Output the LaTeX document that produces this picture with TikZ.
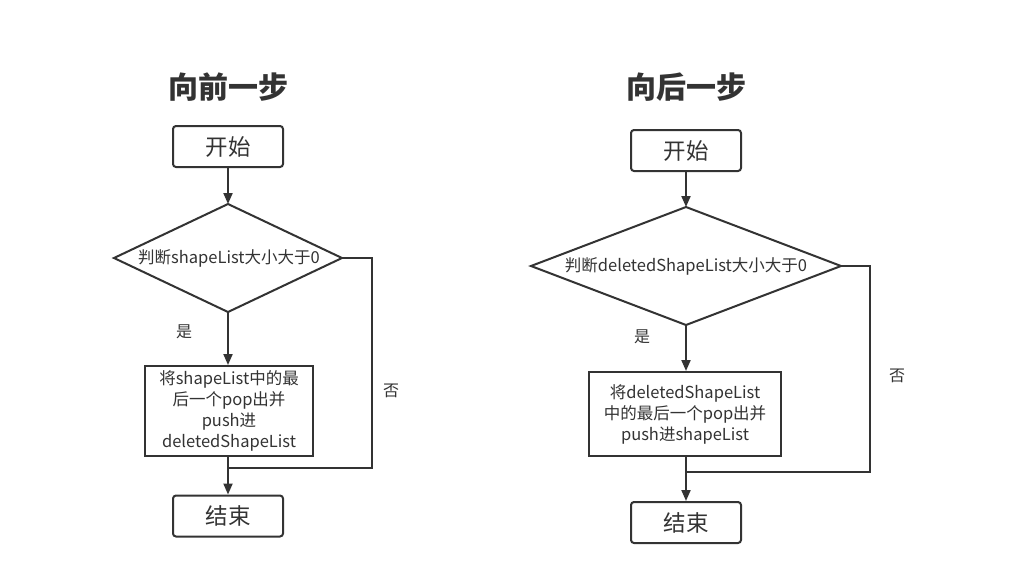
\documentclass[tikz,border=0pt]{standalone}
\usepackage{fontspec}
\setmainfont{Noto Sans CJK SC}
\usetikzlibrary{arrows.meta,calc}
\definecolor{ink}{HTML}{333333}
\tikzset{
  x=1pt,y=-1pt,
  every node/.style={text=ink},
  line/.style={draw=ink,line width=2pt},
  thin line/.style={draw=ink,line width=1.5pt},
  arr/.style={line,-{Triangle[length=11pt,width=9pt]}},
  term/.style={line,rounded corners=3pt,minimum width=110pt,minimum height=41pt,font=\fontsize{22.5}{26}\selectfont,inner sep=0pt},
  proc/.style={line,font=\fontsize{16.5}{21}\selectfont,align=center,inner sep=0pt},
  title/.style={font=\fontsize{30}{34}\selectfont\bfseries},
  lbl/.style={font=\fontsize{16}{20}\selectfont},
  dtext/.style={font=\fontsize{16.5}{20}\selectfont,inner sep=0pt},
}
\begin{document}
\begin{tikzpicture}
\fill[white] (0,0) rectangle (1009,576);
\useasboundingbox (0,0) rectangle (1009,576);

% ---------------- left ----------------
\node[title] (t1) at (228,87) {向前一步};
\node[term] (s1) at (228,146.5) {开始};
\coordinate (d1n) at (228,204);
\coordinate (d1e) at (342,258);
\coordinate (d1s) at (228,312);
\coordinate (d1w) at (114,258);
\draw[line,line join=miter] (d1n) -- (d1e) -- (d1s) -- (d1w) -- cycle;
\node[dtext] (d1) at (229,258) {判断shapeList大小大于0};
\node[proc,minimum width=168pt,minimum height=90pt] (p1) at (229,411) {将shapeList中的最\\后一个pop出并\\push进\\deletedShapeList};
\node[term] (e1) at (228,516) {结束};
\draw[arr] (s1.south) -- (d1n);
\draw[arr] (d1s) -- (p1.north -| d1s);
\draw[arr] (p1.south -| e1) -- (e1.north);
\coordinate (j1) at (e1.north |- 0,468);
\draw[thin line] (d1e) -- (372,258) -- (372,468) -- (j1);
\node[lbl] (y1) at (184,332) {是};
\node[lbl] (n1) at (391,391) {否};

% ---------------- right ----------------
\node[title] (t2) at (686,87) {向后一步};
\node[term] (s2) at (686,150.5) {开始};
\coordinate (d2n) at (686,207);
\coordinate (d2e) at (841,266);
\coordinate (d2s) at (686,325);
\coordinate (d2w) at (531,266);
\draw[line,line join=miter] (d2n) -- (d2e) -- (d2s) -- (d2w) -- cycle;
\node[dtext] (d2) at (686,266) {判断deletedShapeList大小大于0};
\node[proc,minimum width=192pt,minimum height=84pt] (p2) at (685,414) {将deletedShapeList\\中的最后一个pop出并\\push进shapeList};
\node[term] (e2) at (686,522.5) {结束};
\draw[arr] (s2.south) -- (d2n);
\draw[arr] (d2s) -- (p2.north -| d2s);
\draw[arr] (p2.south -| e2) -- (e2.north);
\coordinate (j2) at (e2.north |- 0,472);
\draw[thin line] (d2e) -- (870,266) -- (870,472) -- (j2);
\node[lbl] (y2) at (642,337) {是};
\node[lbl] (n2) at (897,376) {否};
\end{tikzpicture}
\end{document}
